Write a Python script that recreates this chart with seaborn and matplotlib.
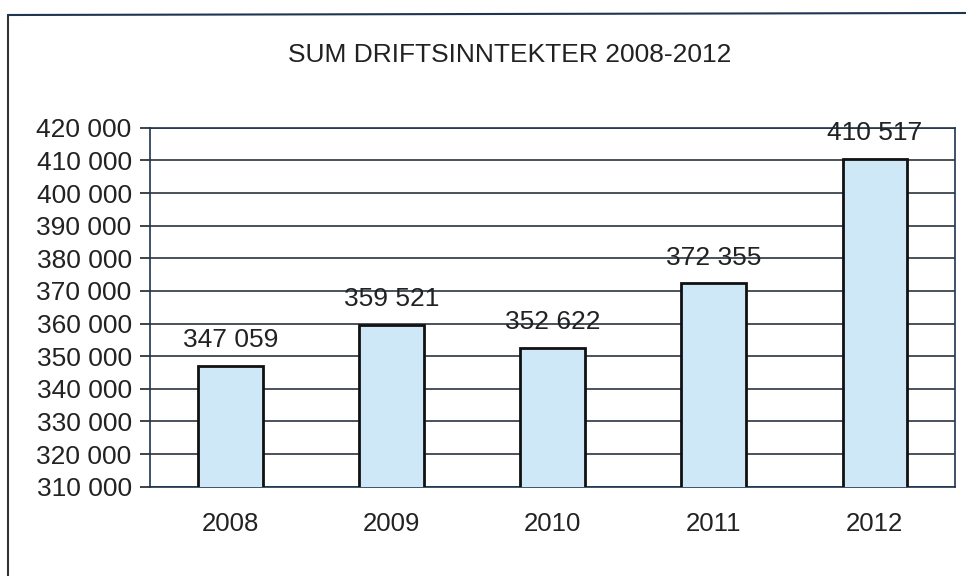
import matplotlib
matplotlib.use("Agg")
import matplotlib.pyplot as plt
import matplotlib.ticker as mticker
from matplotlib.lines import Line2D
import seaborn as sb
import pandas as pd

years = ["2008", "2009", "2010", "2011", "2012"]
revenue = [347059, 359521, 352622, 372355, 410517]
title = "SUM DRIFTSINNTEKTER 2008-2012"

sb.set_style("white")
plt.rcParams['font.family'] = ['Liberation Sans', 'DejaVu Sans']

df = pd.DataFrame({"year": years, "revenue": revenue})

fig = plt.figure(figsize=(9.66, 5.76), dpi=100)
ax = fig.add_axes([0.155, 0.155, 0.834, 0.623])

sb.barplot(data=df, x="year", y="revenue", color="#cfe8f8", saturation=1,
           edgecolor="#111111", linewidth=2, width=0.4, ax=ax, zorder=3)

ax.set_ylim(310000, 420000)
ax.set_xlim(-0.5, len(years) - 0.5)
ax.yaxis.set_major_locator(mticker.MultipleLocator(10000))
ax.yaxis.set_major_formatter(mticker.FuncFormatter(lambda v, p: f"{int(v):,}".replace(",", " ")))
ax.grid(axis="y", color="#2a3340", linewidth=1.2, zorder=0)
ax.set_axisbelow(True)

for s in ax.spines.values():
    s.set_color("#1f3550")
    s.set_linewidth(1.2)

# value labels
for i, v in enumerate(revenue):
    ax.text(i, v + 4200, f"{v:,}".replace(",", " "), ha="center", va="bottom",
            fontsize=19, color="#222222", zorder=4)

# tick marks between categories
ax.set_xticks(range(len(years)))
ax.set_xticklabels(years)
ax.set_xticks([i + 0.5 for i in range(-1, len(years))], minor=True)
ax.tick_params(axis="x", which="major", length=0, pad=18, labelsize=18.5, labelcolor="#222222")
ax.tick_params(axis="x", which="minor", length=6, width=1.2, color="#222222", direction="out")
ax.tick_params(axis="y", length=7, width=1.2, color="#222222", labelsize=19,
               labelcolor="#222222", pad=6, left=True)
ax.set_xlabel("")
ax.set_ylabel("")

fig.text(0.528, 0.904, title, ha="center", va="center", fontsize=19, color="#222222")

# outer frame of the scanned chart
fig.add_artist(Line2D([8 / 966, 8 / 966], [0, 1 - 15 / 576], transform=fig.transFigure,
                      color="#333333", linewidth=1.5))
fig.add_artist(Line2D([8 / 966, 1], [1 - 15 / 576, 1 - 13 / 576], transform=fig.transFigure,
                      color="#1f3550", linewidth=1.5))

plt.savefig("out.png", dpi=100)
plt.close()
